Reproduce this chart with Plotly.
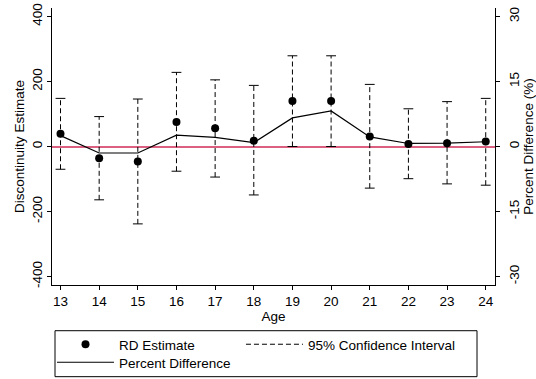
import plotly.graph_objects as go

# Regression-discontinuity estimates by age
ages = [13, 14, 15, 16, 17, 18, 19, 20, 21, 22, 23, 24]
rd_estimate = [39, -36, -46, 75, 56, 18, 140, 140, 31, 8, 10, 15]
ci_upper = [148, 92, 146, 228, 205, 188, 279, 279, 191, 116, 138, 148]
ci_lower = [-70, -164, -238, -76, -94, -149, 0, 0, -128, -99, -115, -119]
pct_difference = [2.5, -1.5, -1.5, 2.6, 2.1, 0.9, 6.6, 8.2, 2.2, 0.7, 0.8, 1.1]

left_ticks = [-400, -200, 0, 200, 400]
right_ticks = [-30, -15, 0, 15, 30]

FONT = "Liberation Sans, Arial, Helvetica, sans-serif"
FS = 13.5
Y_MAX = 426
PCT_PER_UNIT = 15 / 200  # right axis: 15% lines up with 200 on the left

# dashed confidence-interval whiskers, one segment per age
ci_x, ci_y = [], []
for a, lo, hi in zip(ages, ci_lower, ci_upper):
    ci_x += [a, a, None]
    ci_y += [lo, hi, None]

fig = go.Figure()

fig.add_trace(go.Scatter(
    x=ages, y=rd_estimate, mode="markers", name="RD Estimate",
    marker=dict(color="black", size=8), legend="legend",
))
fig.add_trace(go.Scatter(
    x=ci_x, y=ci_y, mode="lines", name="95% Confidence Interval",
    line=dict(color="black", width=1, dash="5px,3px"), legend="legend2",
))
fig.add_trace(go.Scatter(
    x=ages + ages, y=ci_upper + ci_lower, mode="markers", showlegend=False,
    marker=dict(symbol="line-ew", size=7, line=dict(color="black", width=1)),
    hoverinfo="skip",
))
fig.add_trace(go.Scatter(
    x=ages, y=pct_difference, mode="lines", name="Percent Difference",
    line=dict(color="black", width=1.2), yaxis="y2", legend="legend3",
))

axis_font = dict(family=FONT, size=FS, color="black")


def legend_box(x, y):
    # one legend entry, placed inside the shared frame below the axes
    return dict(
        orientation="v", x=x, xanchor="left",
        yref="container", y=y, yanchor="top",
        borderwidth=0, bgcolor="rgba(0,0,0,0)", itemwidth=57,
        font=dict(family=FONT, size=FS, color="black"),
    )


fig.update_layout(
    width=536, height=379,
    margin=dict(l=52, r=41, t=8, b=94),
    paper_bgcolor="white", plot_bgcolor="white",
    font=axis_font,
    showlegend=True,
    legend=legend_box(0.0, 0.132),
    legend2=legend_box(0.4266, 0.132),
    legend3=legend_box(0.0, 0.0845),
    xaxis=dict(
        range=[12.78, 24.24], tickvals=ages, ticktext=[str(a) for a in ages],
        showline=True, linecolor="black", linewidth=1, mirror=False,
        ticks="outside", ticklen=4, tickcolor="black", showgrid=False,
        zeroline=False, tickfont=axis_font, automargin=False,
        title=dict(text="Age", font=axis_font, standoff=0),
    ),
    yaxis=dict(
        range=[-Y_MAX, Y_MAX], tickvals=left_ticks,
        ticktext=[str(t) for t in left_ticks], tickangle=-90,
        showline=True, linecolor="black", linewidth=1,
        ticks="outside", ticklen=4, tickcolor="black", showgrid=False,
        zeroline=True, zerolinecolor="#DB5F80", zerolinewidth=2,
        tickfont=axis_font, automargin=False,
        title=dict(text="Discontinuity Estimate", font=axis_font, standoff=1),
    ),
    yaxis2=dict(
        range=[-Y_MAX * PCT_PER_UNIT, Y_MAX * PCT_PER_UNIT], tickvals=right_ticks,
        ticktext=[str(t) for t in right_ticks], tickangle=-90,
        overlaying="y", side="right",
        showline=True, linecolor="black", linewidth=1,
        ticks="outside", ticklen=4, tickcolor="black", showgrid=False,
        zeroline=False, tickfont=axis_font, automargin=False,
        ticklabelstandoff=3,
        title=dict(text="Percent Difference (%)", font=axis_font, standoff=2),
    ),
)

# frame around the legend entries
fig.add_shape(
    type="rect", xref="paper", yref="paper", layer="above",
    x0=0.0068, x1=0.9594, y0=-0.331, y1=-0.165,
    line=dict(color="black", width=1),
)

fig.write_html("out.html")
